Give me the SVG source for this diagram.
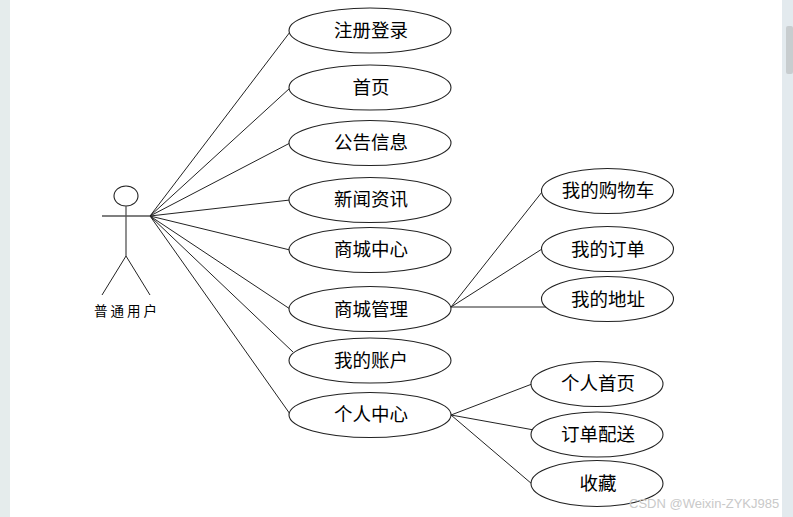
<svg xmlns="http://www.w3.org/2000/svg" width="793" height="517" viewBox="0 0 793 517">
<style>
.u{fill:#fff;stroke:#222;stroke-width:1.1}
.l{stroke:#222;stroke-width:1;fill:none}
.s{stroke:#555;stroke-width:1.3;fill:none}
text{font-family:"Noto Sans CJK SC","Liberation Sans",sans-serif;text-anchor:middle;fill:#000}
.t{font-size:18.500px}
.w{font-family:"Liberation Sans",sans-serif;font-size:13px;fill:#c9c9c9;text-anchor:start}
</style>
<rect width="793" height="517" fill="#fff"/>
<rect x="0" y="0" width="10" height="517" fill="#e5ecec"/>
<rect x="782" y="0" width="11" height="517" fill="#e3eaee"/>
<rect x="786" y="26" width="7" height="48" rx="2" fill="#c8cdcf"/>
<g id="connectors" class="l">
<path d="M150 216L290 32M150 216L290 88M150 216L290 143M150 216L290 200M150 216L290 250M150 216L290 309M150 216L293 352M150 216L290 414"/>
<path d="M451 307L542 192M451 307L542 249M451 307L546 307"/>
<path d="M451 415L532 384M451 415L534 430M451 415L532 484"/>
</g>
<g id="actor">
<ellipse class="u" cx="126" cy="196" rx="12" ry="10"/>
<path class="s" d="M126 206V256M102 216H150"/>
<path class="l" d="M102 295L126 256L150 295"/>
<text x="127" y="316" font-size="13.500" letter-spacing="3">普通用户</text>
</g>
<g id="n1"><ellipse class="u" cx="370" cy="30.500" rx="81" ry="22.500"/><text class="t" x="371" y="36.500">注册登录</text></g>
<g id="n2"><ellipse class="u" cx="370" cy="87.500" rx="81" ry="22.500"/><text class="t" x="371" y="93.500">首页</text></g>
<g id="n3"><ellipse class="u" cx="370" cy="143" rx="81" ry="22.500"/><text class="t" x="371" y="148.500">公告信息</text></g>
<g id="n4"><ellipse class="u" cx="370" cy="200" rx="81" ry="22.500"/><text class="t" x="371" y="205.500">新闻资讯</text></g>
<g id="n5"><ellipse class="u" cx="370" cy="250" rx="81" ry="22.500"/><text class="t" x="371" y="256">商城中心</text></g>
<g id="n6"><ellipse class="u" cx="370" cy="309" rx="81" ry="22.500"/><text class="t" x="371" y="315.500">商城管理</text></g>
<g id="n7"><ellipse class="u" cx="370" cy="360.500" rx="81" ry="22.500"/><text class="t" x="371" y="366.500">我的账户</text></g>
<g id="n8"><ellipse class="u" cx="370" cy="415" rx="81" ry="22.500"/><text class="t" x="371" y="420.500">个人中心</text></g>
<g id="n9"><ellipse class="u" cx="607.500" cy="191" rx="66" ry="22.500"/><text class="t" x="608" y="196.500">我的购物车</text></g>
<g id="n10"><ellipse class="u" cx="607.500" cy="249" rx="66" ry="22.500"/><text class="t" x="608" y="255.500">我的订单</text></g>
<g id="n11"><ellipse class="u" cx="607.500" cy="299" rx="66" ry="22.500"/><text class="t" x="608" y="305.500">我的地址</text></g>
<g id="n12"><ellipse class="u" cx="597" cy="384" rx="66" ry="22.500"/><text class="t" x="598" y="389.500">个人首页</text></g>
<g id="n13"><ellipse class="u" cx="597" cy="434.500" rx="66" ry="22.500"/><text class="t" x="598" y="440.500">订单配送</text></g>
<g id="n14"><ellipse class="u" cx="597" cy="483.500" rx="66" ry="23"/><text class="t" x="598" y="489.500">收藏</text></g>
<text class="w" x="629" y="508">CSDN @Weixin-ZYKJ985</text>
</svg>
